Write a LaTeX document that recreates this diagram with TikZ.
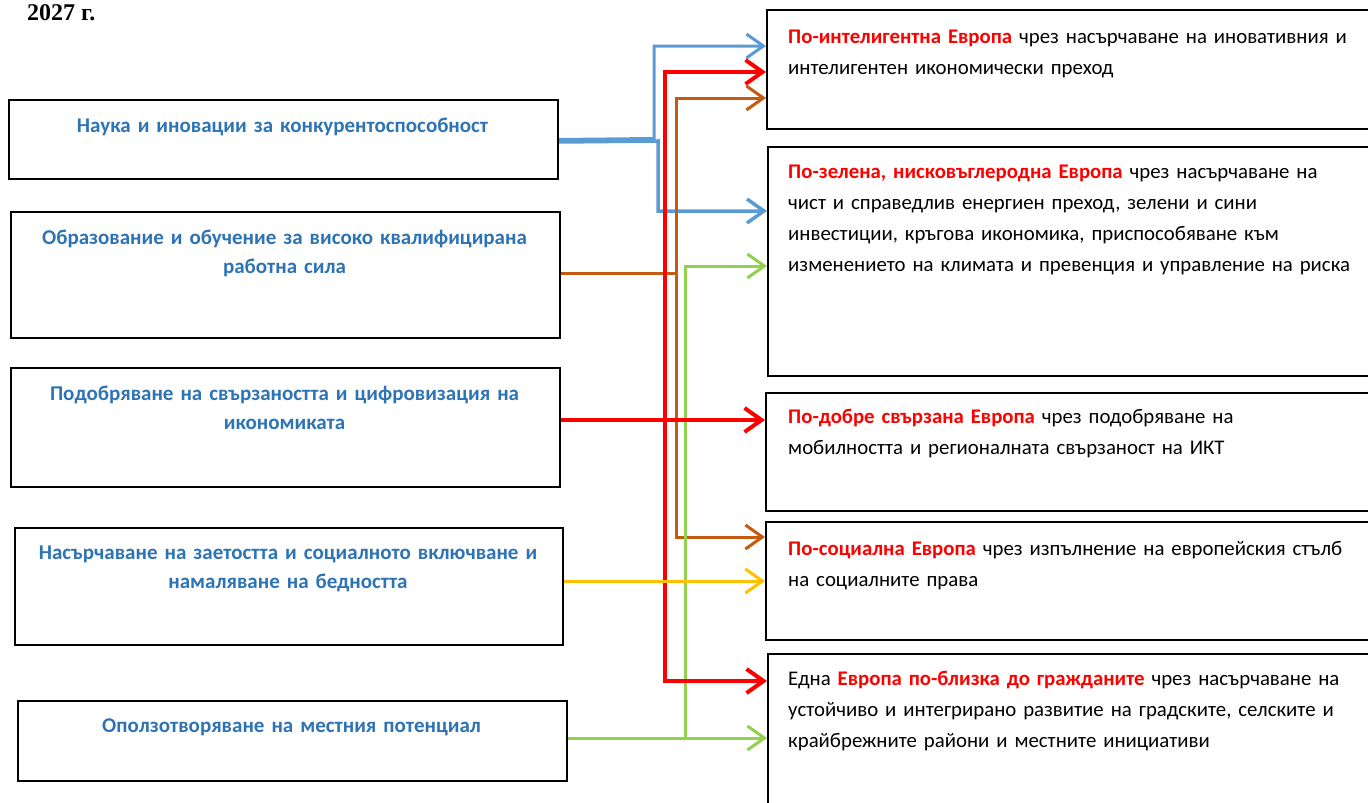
\documentclass[tikz,border=0pt]{standalone}
\usepackage{fontspec}
\setmainfont{Carlito}
\newfontfamily\timesf{Liberation Serif}
\usetikzlibrary{arrows.meta,calc}
\definecolor{ltblue}{HTML}{2E74B5}
\definecolor{cblue}{HTML}{5B9BD5}
\definecolor{cred}{HTML}{FF0000}
\definecolor{cbrown}{HTML}{C55A11}
\definecolor{cgreen}{HTML}{92D050}
\definecolor{cyellow}{HTML}{FFC000}
\newcommand{\hl}[1]{\textbf{\color{cred}#1}}
\tikzset{
  box/.style={draw=black, line width=2pt, anchor=north west, inner sep=0pt, fill=white},
  ltxt/.style={anchor=base, inner sep=0pt, text width=540pt, align=center, text=ltblue, font=\fontsize{21}{29.5}\selectfont\bfseries},
  rtxt/.style={anchor=base west, inner sep=0pt, text width=640pt, align=left, font=\fontsize{20.8}{31}\selectfont},
  conn/.style={line width=3pt, -{Straight Barb[length=17pt,width=24pt]}},
  link/.style={line width=3pt},
}
\begin{document}
\begin{tikzpicture}[x=1pt,y=-1pt]
\useasboundingbox (0,0) rectangle (1368,803);
% title
\node[anchor=base west, inner sep=0pt, font=\timesf\fontsize{24}{24}\selectfont\bfseries] (title) at (27,20) {2027 г.};
% left boxes
\node[box, minimum width=549pt, minimum height=79pt] (L1) at (8,99) {};
\node[box, minimum width=549pt, minimum height=126pt] (L2) at (10,211) {};
\node[box, minimum width=549pt, minimum height=119pt] (L3) at (10,367) {};
\node[box, minimum width=548pt, minimum height=117pt] (L4) at (14,527) {};
\node[box, minimum width=549pt, minimum height=80pt] (L5) at (17,700) {};
% right boxes
\node[box, minimum width=660pt, minimum height=119pt] (R1) at (766,9) {};
\node[box, minimum width=660pt, minimum height=229pt] (R2) at (767,146) {};
\node[box, minimum width=660pt, minimum height=118pt] (R3) at (765,392) {};
\node[box, minimum width=660pt, minimum height=118pt] (R4) at (765,521) {};
\node[box, minimum width=660pt, minimum height=200pt] (R5) at (767,653) {};
% left texts
\node[ltxt] (t1) at (282.5,132) {Наука и иновации за конкурентоспособност};
\node[ltxt] (t2) at (284.5,244) {Образование и обучение за високо квалифицирана\\ работна сила};
\node[ltxt] (t3) at (284.5,400) {Подобряване на свързаността и цифровизация на\\ икономиката};
\node[ltxt] (t4) at (288,559) {Насърчаване на заетостта и социалното включване и\\ намаляване на бедността};
\node[ltxt] (t5) at (291.5,732) {Оползотворяване на местния потенциал};
% right texts
\node[rtxt] (s1) at (788,43) {\hl{По-интелигентна Европа} чрез насърчаване на иновативния и\\ интелигентен икономически преход};
\node[rtxt] (s2) at (788,178) {\hl{По-зелена, нисковъглеродна Европа} чрез насърчаване на\\ чист и справедлив енергиен преход, зелени и сини\\ инвестиции, кръгова икономика, приспособяване към\\ изменението на климата и превенция и управление на риска};
\node[rtxt] (s3) at (788,423) {\hl{По-добре свързана Европа} чрез подобряване на\\ мобилността и регионалната свързаност на ИКТ};
\node[rtxt] (s4) at (788,555) {\hl{По-социална Европа} чрез изпълнение на европейския стълб\\ на социалните права};
\node[rtxt] (s5) at (788,685) {Една \hl{Европа по-близка до гражданите} чрез насърчаване на\\ устойчиво и интегрирано развитие на градските, селските и\\ крайбрежните райони и местните инициативи};
% connectors
\draw[conn, cblue] (L1.east) -- (654,138.5) -- (654,46) -- (R1.west |- 0,46);
\draw[conn, cblue, line width=3.5pt] ([yshift=-2.5pt]L1.east) -- (658,141) -- (658,211) -- (R2.west |- 0,211);
\draw[link, cbrown] (L2.east |- 0,273) -- (678,273);
\draw[conn, cbrown, {Straight Barb[length=17pt,width=24pt]}-{Straight Barb[length=17pt,width=24pt]}] (R1.west |- 0,98) -- (676,98) -- (676,537) -- (R4.west |- 0,537);
\coordinate (gj) at (685,738);
\draw[conn, cgreen] (gj) -- (685,266) -- (R2.west |- 0,266);
\draw[conn, cgreen] (L5.east |- 0,738) -- (R5.west |- 0,738);
\draw[conn, cred, line width=4pt, {Straight Barb[length=17pt,width=24pt]}-{Straight Barb[length=17pt,width=24pt]}] (R1.west |- 0,72) -- (665,72) -- (665,681) -- (R5.west |- 0,681);
\draw[conn, cred, line width=4pt] (L3.east |- 0,420) -- (R3.west |- 0,420);
\draw[conn, cyellow] (L4.east |- 0,581) -- (R4.west |- 0,581);
\end{tikzpicture}
\end{document}
